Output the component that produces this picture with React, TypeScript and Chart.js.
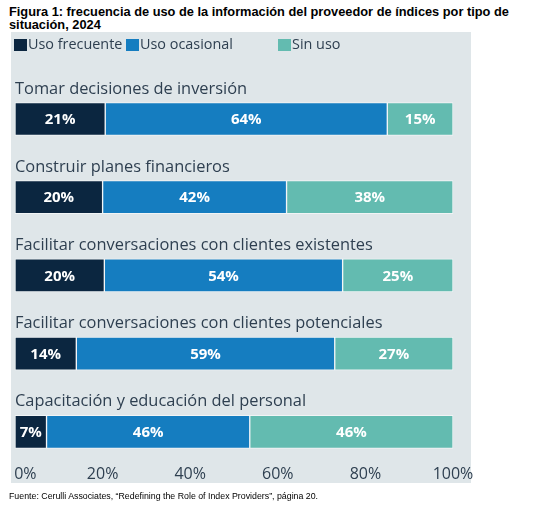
import { useEffect, useRef } from 'react';
import Chart from 'chart.js/auto';

const categories = [
  'Tomar decisiones de inversión',
  'Construir planes financieros',
  'Facilitar conversaciones con clientes existentes',
  'Facilitar conversaciones con clientes potenciales',
  'Capacitación y educación del personal'
];
const seriesNames = ['Uso frecuente', 'Uso ocasional', 'Sin uso'];
const usoFrecuente = [20.6, 20, 20.4, 14, 7.2];
const usoOcasional = [64.4, 42, 54.4, 59, 46.4];
const sinUso = [15, 38, 25.2, 27, 46.4];
const xTicks = [0, 20, 40, 60, 80, 100];

const colors = ['#0b2640', '#157dc0', '#63bbb0'];
const textColor = '#2e3f50';
const font = '"Open Sans", "Noto Sans", sans-serif';

// legend box x positions (px from left of canvas)
const legendX = [14, 126, 278];

const legendPlugin = {
  id: 'customLegend',
  afterDraw(chart: any) {
    const { ctx } = chart;
    ctx.save();
    ctx.font = `14.4px ${font}`;
    ctx.textBaseline = 'middle';
    chart.data.datasets.forEach((ds: any, i: number) => {
      const x = legendX[i];
      ctx.fillStyle = ds.backgroundColor;
      ctx.fillRect(x, 7, 13, 12);
      ctx.fillStyle = textColor;
      ctx.fillText(ds.label, x + 14, 13);
    });
    ctx.restore();
  }
};

const categoryLabels = {
  id: 'categoryLabels',
  afterDatasetsDraw(chart: any) {
    const { ctx, chartArea } = chart;
    const meta = chart.getDatasetMeta(0);
    ctx.save();
    ctx.font = `16.4px ${font}`;
    ctx.fillStyle = textColor;
    ctx.textBaseline = 'alphabetic';
    meta.data.forEach((el: any, i: number) => {
      const top = el.y - el.height / 2;
      ctx.fillText(chart.data.labels[i], chartArea.left, top - 9);
    });
    ctx.restore();
  }
};

const valueLabels = {
  id: 'valueLabels',
  afterDatasetsDraw(chart: any) {
    const { ctx } = chart;
    ctx.save();
    ctx.font = `bold 15px ${font}`;
    ctx.fillStyle = '#ffffff';
    ctx.textAlign = 'center';
    ctx.textBaseline = 'middle';
    chart.data.datasets.forEach((ds: any, d: number) => {
      chart.getDatasetMeta(d).data.forEach((el: any, i: number) => {
        const v = ds.data[i];
        ctx.fillText(Math.round(v) + '%', (el.x + el.base) / 2, el.y + 1);
      });
    });
    ctx.restore();
  }
};

function UsageChart() {
  const ref = useRef<HTMLCanvasElement | null>(null);

  useEffect(() => {
    if (!ref.current) return;
    const values = [usoFrecuente, usoOcasional, sinUso];
    const chart = new Chart(ref.current, {
      type: 'bar',
      data: {
        labels: categories,
        datasets: seriesNames.map((name, i) => ({
          label: name,
          data: values[i],
          backgroundColor: colors[i],
          borderColor: 'rgba(255,255,255,0.55)',
          borderWidth: 1,
          borderSkipped: false,
          barThickness: 33,
          clip: false as any
        }))
      },
      options: {
        indexAxis: 'y',
        animation: false,
        responsive: true,
        maintainAspectRatio: false,
        layout: { padding: { left: 15, right: 83, top: 87, bottom: 0 } },
        plugins: {
          legend: { display: false },
          tooltip: { enabled: false }
        },
        scales: {
          x: {
            stacked: true,
            min: 0,
            max: 100,
            grid: { display: false, drawTicks: false },
            border: { display: false },
            afterBuildTicks: (scale: any) => {
              scale.ticks = xTicks.map((v) => ({ value: v }));
            },
            afterFit: (scale: any) => {
              scale.paddingLeft = 0;
            },
            ticks: {
              padding: 33,
              color: textColor,
              font: { family: font, size: 16 },
              maxRotation: 0,
              autoSkip: false,
              callback: (v: any) => (v === 0 ? '     0%' : v + '%')
            }
          },
          y: {
            stacked: true,
            display: false,
            offset: false
          }
        }
      },
      plugins: [legendPlugin, categoryLabels, valueLabels]
    });
    return () => chart.destroy();
  }, []);

  return <canvas ref={ref} aria-label="Frecuencia de uso de la información del proveedor de índices" />;
}

export default function App() {
  return (
    <div
      style={{
        position: 'fixed',
        left: 0,
        top: 0,
        width: 536,
        height: 513,
        background: '#ffffff',
        overflow: 'hidden'
      }}
    >
      <div
        style={{
          position: 'absolute',
          left: 9,
          top: 5,
          font: 'bold 12.8px "Liberation Sans", Arial, sans-serif',
          lineHeight: '13px',
          color: '#000000',
          whiteSpace: 'nowrap'
        }}
      >
        Figura 1: frecuencia de uso de la información del proveedor de índices por tipo de
        <br />
        situación, 2024
      </div>
      <div style={{ position: 'absolute', left: 11, top: 32, width: 460, height: 451, background: '#dfe6e9' }} />
      <div style={{ position: 'absolute', left: 0, top: 32, width: 536, height: 485 }}>
        <UsageChart />
      </div>
      <div
        style={{
          position: 'absolute',
          left: 9,
          top: 491,
          font: '8.8px "Liberation Sans", Arial, sans-serif',
          lineHeight: '10px',
          color: '#000000',
          whiteSpace: 'nowrap'
        }}
      >
        Fuente: Cerulli Associates, “Redefining the Role of Index Providers”, página 20.
      </div>
    </div>
  );
}
